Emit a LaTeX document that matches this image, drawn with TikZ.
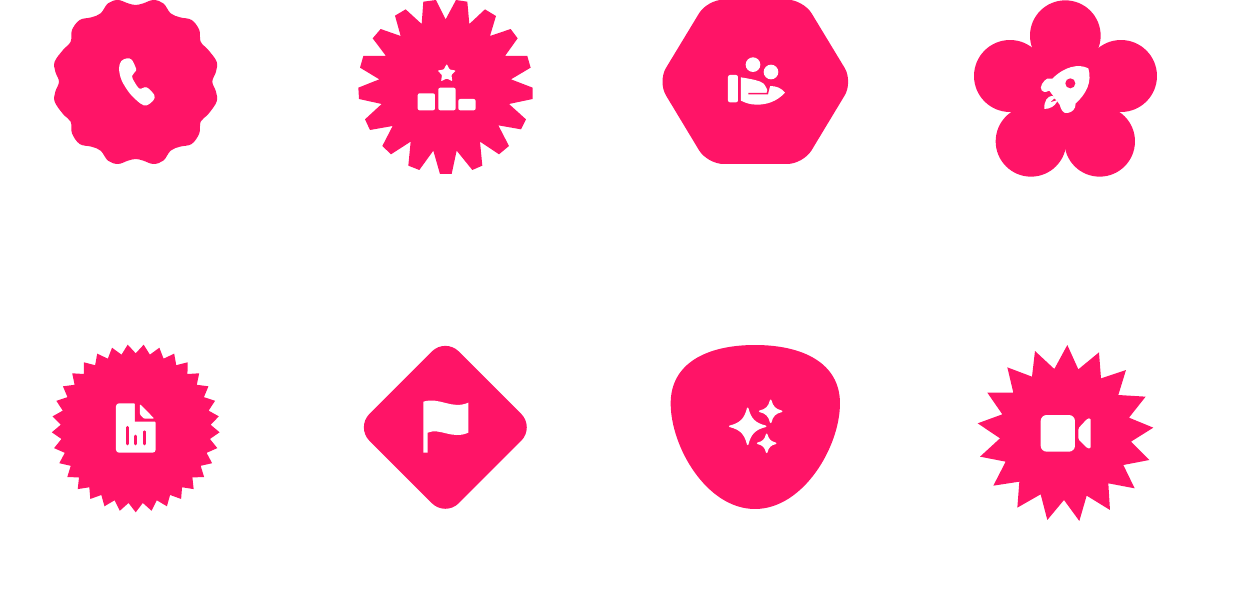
\documentclass[tikz,border=0pt]{standalone}
\usepackage{tikz}
\usetikzlibrary{shapes.geometric}
\definecolor{badgepink}{RGB}{255,20,103}
\newcommand{\sparklesize}{1.5pt}
% four pointed sparkle: centre x, centre y, radius
\newcommand{\sparkle}[3]{
    \filldraw[white, line width=\sparklesize, line join=round, shift={(#1,#2)}, scale=#3]
        (0,-1) .. controls (.15,-.4) and (.4,-.15) .. (1,0)
        .. controls (.4,.15) and (.15,.4) .. (0,1)
        .. controls (-.15,.4) and (-.4,.15) .. (-1,0)
        .. controls (-.4,-.15) and (-.15,-.4) .. (0,-1) -- cycle;
}

\begin{document}
\begin{tikzpicture}[x=1pt, y=-1pt]
    \tikzset{
        badge/.style = {fill=badgepink},
        glyph/.style = {fill=white},
        cutout/.style = {fill=badgepink},
        spikes/.style = {star, fill=badgepink, draw=none, inner sep=0pt, outer sep=0pt}
    }
    %\draw[help lines] (0,0) grid[step=100] (1243,606);
    \useasboundingbox (0,0) rectangle (1243,606);

    % top row
    \begin{scope}[shift={(40,0)}, scale=.3333]
        \fill[badge] plot[smooth cycle, tension=.6] coordinates {(287,15) (310,10) (340,0) (370,10) (392,40) (420,52)
            (455,60) (478,90) (482,125) (505,150) (530,185) (528,215) (517,245) (528,275) (530,305) (505,342)
            (482,365) (478,400) (455,432) (420,440) (392,452) (370,482) (340,492) (310,482) (287,477) (264,482)
            (234,492) (204,482) (182,452) (154,440) (119,432) (96,400) (92,365) (69,342) (44,305) (46,275)
            (57,245) (46,215) (44,185) (69,150) (92,125) (96,90) (119,60) (154,52) (182,40) (204,10) (234,0) (264,10)};
    \end{scope}
    \begin{scope}[shift={(105,50)}, scale=.3333]
        \fill[glyph] plot[smooth cycle, tension=.55] coordinates {(42,55) (49,33) (66,25) (80,29) (91,50) (93,62)
            (81,78) (89,97) (104,116) (125,112) (148,135) (145,151) (125,166) (107,161) (75,131) (50,91)};
    \end{scope}

    \begin{scope}[shift={(350,0)}, scale=.3333]
        \fill[badge] (220,5) -- (258,0) -- (287,58) -- (318,0) -- (352,5) -- (358,72) -- (405,28) -- (438,48)
            -- (420,108) -- (482,87) -- (503,115) -- (465,168) -- (532,168) -- (542,203) -- (483,238)
            -- (548,263) -- (548,297) -- (477,312) -- (528,358) -- (513,388) -- (445,376) -- (477,438)
            -- (447,463) -- (390,425) -- (397,497) -- (367,510) -- (320,452) -- (305,522) -- (270,522)
            -- (250,452) -- (208,510) -- (175,497) -- (182,425) -- (123,463) -- (97,438) -- (128,378)
            -- (60,390) -- (45,358) -- (95,312) -- (27,297) -- (25,263) -- (88,238) -- (30,203) -- (40,168)
            -- (108,168) -- (68,115) -- (92,87) -- (152,108) -- (135,47) -- (167,28) -- (215,72) -- cycle;
        \fill[glyph, rounded corners=2pt] (203,280) rectangle (255,331);
        \fill[glyph, rounded corners=2pt] (265,263) rectangle (317,331);
        \fill[glyph, rounded corners=2pt] (325,297) rectangle (377,331);
    \end{scope}
    \node[star, star points=5, star point ratio=1.9, fill=white, inner sep=0pt, outer sep=0pt,
        minimum size=19pt, rounded corners=.7pt] (podiumstar) at (446.7,73.5) {};

    \begin{scope}[shift={(655,0)}, scale=.3333]
        \fill[badge, rounded corners=16pt] (157,-1) -- (445,-1) -- (594,245) -- (445,492) -- (157,492) -- (8,245) -- cycle;
        \fill[glyph] (294,194) circle (22);
        \fill[glyph] (348,216) circle (22);
        \fill[glyph, rounded corners=2pt] (219,225) rectangle (249,307);
        \fill[glyph] plot[smooth, tension=.5] coordinates {(258,232) (300,240) (325,250) (338,272)}
            -- (345,258) .. controls (365,258) and (380,265) .. (390,278)
            .. controls (365,305) and (335,314) .. (305,314) .. controls (285,314) and (270,308) .. (258,302) -- cycle;
        \draw[badgepink, line width=1.6pt] (280,281) -- (337,281) -- (343,256);
    \end{scope}

    \begin{scope}[shift={(965,0)}, scale=.3333]
        \fill[badge] (301,107) circle (106);
        \fill[badge] (135,228) circle (108);
        \fill[badge] (468,228) circle (108);
        \fill[badge] (198,424) circle (106);
        \fill[badge] (404,424) circle (106);
        \fill[badge] (301,285) circle (150);
        % rocket body, fin to fin
        \fill[glyph] (370,205) .. controls (340,190) and (298,200) .. (262,236) -- (247,236)
            .. controls (236,240) and (222,262) .. (230,271) .. controls (238,279) and (246,276) .. (253,272)
            -- (284,314) .. controls (288,327) and (293,342) .. (308,339) .. controls (322,336) and (332,328) .. (332,310)
            .. controls (364,282) and (382,245) .. (370,205) -- cycle;
        \fill[cutout] (316,250) circle (15);
        \fill[glyph] (238,327) .. controls (236,305) and (248,288) .. (260,288)
            .. controls (272,288) and (280,295) .. (276,305) .. controls (270,318) and (255,327) .. (238,327) -- cycle;
        \fill[cutout] (258,306) -- (268,296) -- (274,301) -- cycle;
    \end{scope}

    % bottom row
    \node[spikes, star points=33, star point ratio=1.12, minimum size=168pt,
        shape border rotate=180] (reportstar) at (135.7,428.3) {};
    \begin{scope}[shift={(45,340)}, scale=.3333]
        \fill[glyph, rounded corners=3pt] (213,190) -- (275,190) -- (275,240) -- (332,240) -- (332,338) -- (213,338) -- cycle;
        \fill[cutout] (270,186) -- (281,186) -- (281,234) -- (336,234) -- (336,245) -- (270,245) -- cycle;
        \fill[glyph, rounded corners=1pt] (285,192) -- (328,236) -- (297,236) -- (285,224) -- cycle;
        \draw[badgepink, line width=2.7pt, line cap=round] (248,262) -- (248,312);
        \draw[badgepink, line width=2.7pt, line cap=round] (272,288) -- (272,312);
        \draw[badgepink, line width=2.7pt, line cap=round] (298,275) -- (298,312);
    \end{scope}

    \begin{scope}[shift={(355,340)}, scale=.3333]
        \fill[badge, rounded corners=19pt] (271,-6) -- (539,262) -- (271,530) -- (3,262) -- cycle;
        \fill[glyph] (205,185) .. controls (255,170) and (290,210) .. (340,188) -- (340,278)
            .. controls (290,300) and (255,262) .. (218,278) -- (218,338) -- (205,338) -- cycle;
    \end{scope}

    \begin{scope}[shift={(660,340)}, scale=.3333]
        \fill[badge] (285,15) .. controls (430,15) and (540,70) .. (540,190)
            .. controls (540,320) and (430,507) .. (285,507)
            .. controls (140,507) and (32,320) .. (32,190)
            .. controls (32,70) and (140,15) .. (285,15) -- cycle;
    \end{scope}
    \sparkle{747.7}{426.3}{18}
    \sparkle{770.7}{411.3}{11}
    \sparkle{766.7}{443.3}{9}

    \begin{scope}[shift={(970,340)}, scale=.3333]
        \fill[badge] (292,15) -- (325,88) -- (387,37) -- (393,115) -- (468,90) -- (445,165) -- (527,170) -- (477,233)
            -- (550,263) -- (483,305) -- (538,360) -- (460,375) -- (494,445) -- (415,430) -- (420,510) -- (350,467)
            -- (328,543) -- (282,480) -- (232,540) -- (212,463) -- (142,503) -- (148,425) -- (70,437) -- (107,365)
            -- (30,350) -- (90,295) -- (23,250) -- (97,223) -- (52,158) -- (130,158) -- (112,82) -- (186,110)
            -- (195,33) -- (253,87) -- cycle;
        \fill[glyph, rounded corners=6pt] (212,225) rectangle (315,335);
        \fill[glyph, rounded corners=1.5pt] (325,265) -- (352,236) -- (362,234) -- (362,326) -- (352,325) -- (325,298) -- cycle;
    \end{scope}
\end{tikzpicture}
\end{document}
